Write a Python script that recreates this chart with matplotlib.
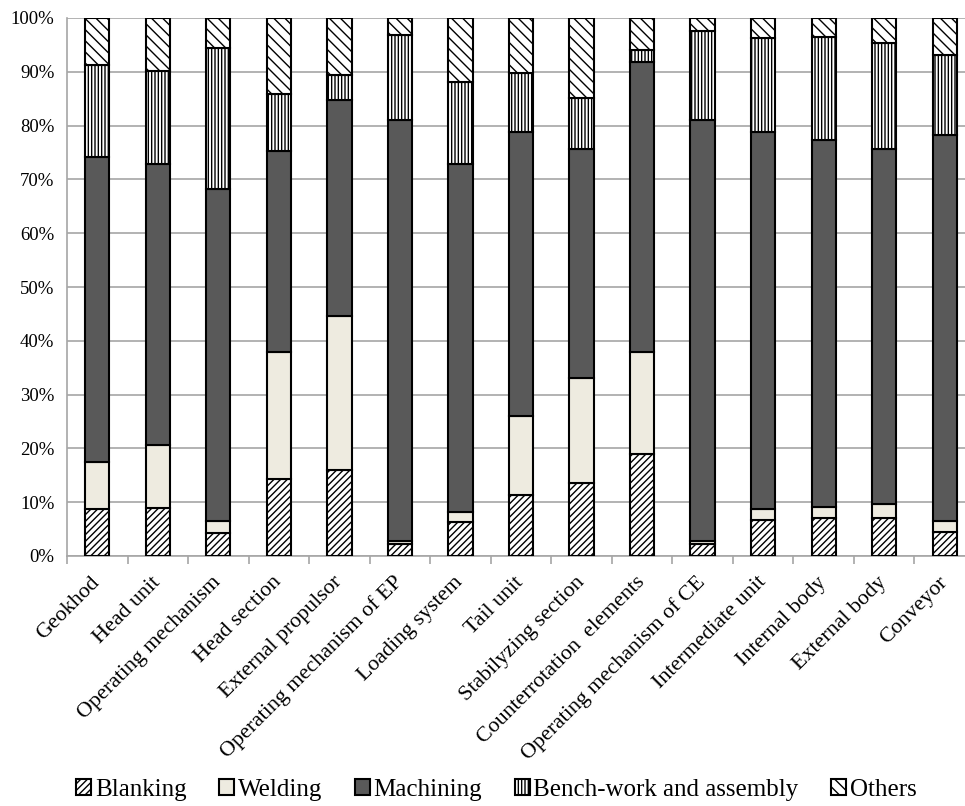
import matplotlib.pyplot as plt
import numpy as np

plt.rcParams['font.family'] = ['Liberation Serif', 'DejaVu Serif']
plt.rcParams['hatch.linewidth'] = 1.0

# units of the geokhod and share of labour by operation (%)
units = ['Geokhod', 'Head unit', 'Operating mechanism', 'Head section',
         'External propulsor', 'Operating mechanism of EP', 'Loading system',
         'Tail unit', 'Stabilyzing section', 'Counterrotation  elements',
         'Operating mechanism of CE', 'Intermediate unit', 'Internal body',
         'External body', 'Conveyor']

blanking = [8.8, 8.9, 4.3, 14.4, 15.9, 2.2, 6.3, 11.4, 13.5, 18.9, 2.2, 6.6, 7.1, 7.0, 4.5]
welding = [8.6, 11.8, 2.2, 23.5, 28.8, 0.6, 1.8, 14.6, 19.6, 19.0, 0.6, 2.2, 2.0, 2.6, 2.0]
machining = [56.7, 52.1, 61.7, 37.3, 40.0, 78.3, 64.7, 52.8, 42.5, 53.9, 78.3, 70.0, 68.3, 66.0, 71.7]
bench = [17.2, 17.4, 26.2, 10.7, 4.7, 15.8, 15.3, 11.0, 9.5, 2.2, 16.5, 17.4, 19.1, 19.7, 15.0]
others = [8.7, 9.8, 5.6, 14.1, 10.6, 3.1, 11.9, 10.2, 14.9, 6.0, 2.4, 3.8, 3.5, 4.7, 6.8]

series = [
    ('Blanking', blanking, 'white', '/////'),
    ('Welding', welding, '#EEEBE0', None),
    ('Machining', machining, '#595959', None),
    ('Bench-work and assembly', bench, 'white', '|||||'),
    ('Others', others, 'white', '\\\\\\'),
]

fig = plt.figure(figsize=(9.65, 8.06), dpi=100)
ax = fig.add_axes([67 / 965, 1 - 556 / 806, (975 - 67) / 965, (556 - 18) / 806])

x = np.arange(len(units))
bottom = np.zeros(len(units))
for name, vals, color, hatch in series:
    ax.bar(x, vals, 0.4, bottom=bottom, color=color, edgecolor='black',
           linewidth=1.5, hatch=hatch, label=name, zorder=3)
    bottom += np.array(vals)

ax.set_xlim(-0.5, len(units) - 0.5)
ax.set_ylim(0, 100)
ax.set_yticks(np.arange(0, 101, 10))
ax.set_yticklabels([f'{v}%' for v in range(0, 101, 10)], fontsize=13.5)
ax.yaxis.grid(True, color='#A6A6A6', linewidth=1.2, zorder=0)
ax.tick_params(axis='y', length=0, pad=9)

ax.set_xticks(x)
ax.set_xticklabels(units, rotation=45, ha='right', va='center',
                   rotation_mode='anchor', fontsize=15.8)
ax.tick_params(axis='x', length=0, pad=17)
ax.set_xticks(np.arange(-0.5, len(units), 1), minor=True)
ax.tick_params(axis='x', which='minor', length=6, color='#A6A6A6', width=1.2)

for s in ['top', 'right']:
    ax.spines[s].set_visible(False)
for s in ['left', 'bottom']:
    ax.spines[s].set_color('#A6A6A6')
    ax.spines[s].set_linewidth(1.2)

fig.legend(loc='center', bbox_to_anchor=(0.5 + 14 / 965, 1 - 790 / 806), ncol=5,
           frameon=False, fontsize=18, handlelength=0.6, handleheight=0.6,
           handletextpad=0.15, columnspacing=1.3)

fig.savefig('out.png', dpi=100)
